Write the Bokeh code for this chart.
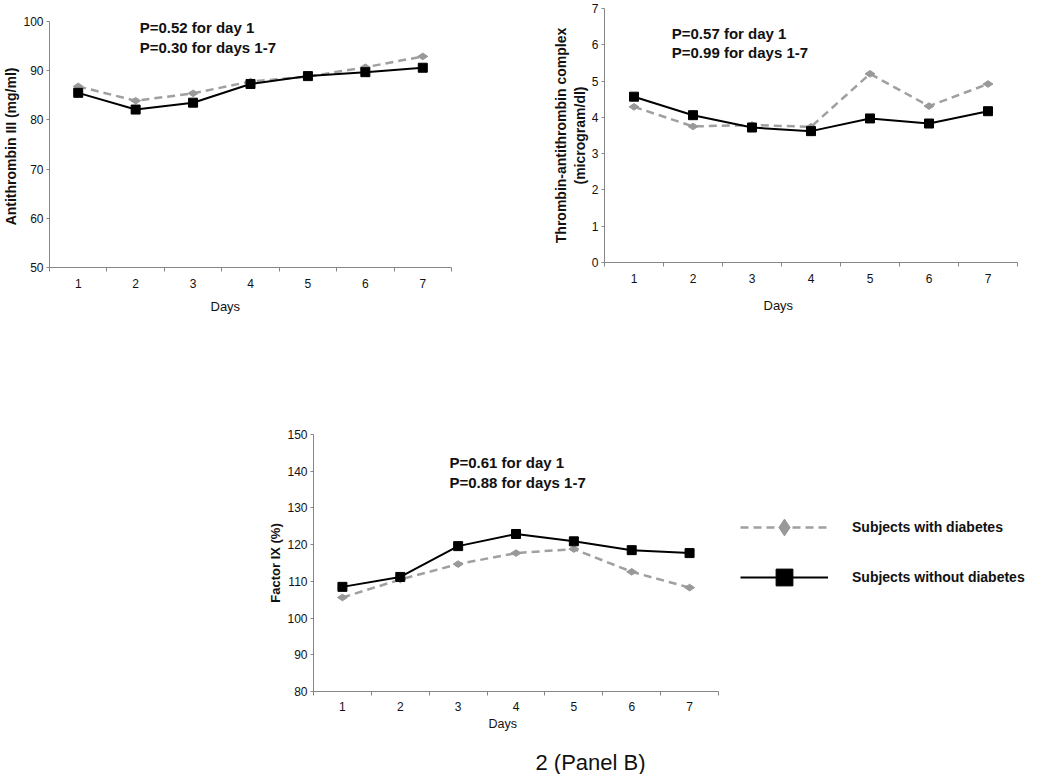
from math import pi
from bokeh.plotting import figure
from bokeh.models import FixedTicker, Label, Legend, LegendItem, Spacer, Range1d, Title
from bokeh.layouts import column, row
from bokeh.embed import file_html
from bokeh.resources import INLINE

# ---- data ----
days = [1, 2, 3, 4, 5, 6, 7]
at3_diab = [86.8, 83.9, 85.4, 87.8, 88.8, 90.7, 92.9]
at3_nodiab = [85.5, 82.1, 83.5, 87.3, 88.9, 89.7, 90.6]
tat_diab = [4.29, 3.75, 3.79, 3.74, 5.20, 4.31, 4.92]
tat_nodiab = [4.57, 4.06, 3.72, 3.62, 3.97, 3.83, 4.17]
f9_diab = [105.6, 110.5, 114.7, 117.7, 118.8, 112.6, 108.3]
f9_nodiab = [108.5, 111.2, 119.6, 122.9, 120.9, 118.5, 117.7]

at3_ticks = [50, 60, 70, 80, 90, 100]
tat_ticks = [0, 1, 2, 3, 4, 5, 6, 7]
f9_ticks = [80, 90, 100, 110, 120, 130, 140, 150]

x_title = "Days"
series_labels = ["Subjects with diabetes", "Subjects without diabetes"]
at3_ptext = "P=0.52 for day 1\nP=0.30 for days 1-7"
tat_ptext = "P=0.57 for day 1\nP=0.99 for days 1-7"
f9_ptext = "P=0.61 for day 1\nP=0.88 for days 1-7"

FONT = "Liberation Sans"
AXIS_GRAY = "#868686"
GRAY_LINE = "#A0A0A0"
GRAY_MARK = "#999999"
TXT = "#111111"


def panel(width, height, mb_left, mb_right, mb_top, mb_bottom, yr, yticks, ylabel,
          ylabel_size, diab, nodiab, ptext, px, py, xl_standoff, xt_standoff, xt_size,
          xt_offset, x_end=7.5):
    p = figure(width=width, height=height, x_range=Range1d(0.5, x_end),
               y_range=Range1d(*yr), output_backend="svg", toolbar_location=None,
               min_border_left=mb_left, min_border_right=mb_right,
               min_border_top=mb_top, min_border_bottom=mb_bottom)
    p.xgrid.visible = False
    p.ygrid.visible = False
    p.outline_line_color = None

    xa = p.xaxis[0]
    xa.bounds = (0.5, 7.5)
    xa.ticker = FixedTicker(ticks=days, minor_ticks=[0.5 + i for i in range(8)])
    xa.major_tick_out = 0
    xa.major_tick_in = 0
    xa.minor_tick_out = 4
    xa.minor_tick_in = 0
    xa.axis_line_color = AXIS_GRAY
    xa.minor_tick_line_color = AXIS_GRAY
    xa.major_label_text_font = FONT
    xa.major_label_text_font_size = "12px"
    xa.major_label_text_color = TXT
    xa.major_label_standoff = xl_standoff

    # x-axis title placed below the axis, positioned like the reference (left of centre)
    p.add_layout(Title(text=x_title, align="left", offset=xt_offset, standoff=xt_standoff,
                       text_font=FONT, text_font_style="normal", text_font_size=xt_size,
                       text_color=TXT), "below")

    ya = p.yaxis[0]
    ya.ticker = FixedTicker(ticks=yticks)
    ya.major_tick_out = 3
    ya.major_tick_in = 0
    ya.minor_tick_line_color = None
    ya.axis_line_color = AXIS_GRAY
    ya.major_tick_line_color = AXIS_GRAY
    ya.major_label_text_font = FONT
    ya.major_label_text_font_size = "12px"
    ya.major_label_text_color = TXT
    ya.major_label_standoff = 3
    ya.axis_label = ylabel
    ya.axis_label_text_font = FONT
    ya.axis_label_text_font_style = "bold"
    ya.axis_label_text_font_size = ylabel_size
    ya.axis_label_text_color = TXT
    ya.axis_label_standoff = 1

    gl = p.line(days, diab, line_color=GRAY_LINE, line_width=2.5, line_dash="8 5")
    gs = p.scatter(days, diab, marker="diamond", angle=pi / 2, size=10,
                   fill_color=GRAY_MARK, line_color=GRAY_MARK)
    bl = p.line(days, nodiab, line_color="black", line_width=2)
    bs = p.scatter(days, nodiab, marker="square", size=9,
                   fill_color="black", line_color="black")

    p.add_layout(Label(x=px, y=py, text=ptext, text_font=FONT, text_font_style="bold",
                       text_font_size="15px", text_baseline="top", text_align="left",
                       text_color=TXT, text_line_height=1.15))
    return p, (gl, gs, bl, bs)


p1, _ = panel(549, 315, 49, 98, 6, 63, (50, 100), at3_ticks,
              "Antithrombin III  (mg/ml)", "14px", at3_diab, at3_nodiab,
              at3_ptext, 2.07, 100.5, 7, 12, "13px", 161)

p2, _ = panel(499, 330, 50, 31, 8, 68, (0, 7), tat_ticks,
              "Thrombin-antithrombin complex\n(microgram/dl)", "14px", tat_diab, tat_nodiab,
              tat_ptext, 1.64, 6.55, 7, 21, "13px", 159)

# Factor IX panel: the frame is widened to the right so the legend can sit inside it;
# the x axis itself is bounded to days 0.5..7.5.
P3_W, P3_L, P3_R, P3_AXIS_PX = 787, 52, 8, 405
p3_x_end = 0.5 + 7 * (P3_W - P3_L - P3_R) / P3_AXIS_PX
p3, rs = panel(P3_W, 410, P3_L, P3_R, 104, 49, (80, 150), f9_ticks,
               "Factor IX (%)", "13px", f9_diab, f9_nodiab,
               f9_ptext, 2.85, 144.6, 6, 2, "12.5px", 175, x_end=p3_x_end)

gl, gs, bl, bs = rs
legend = Legend(items=[LegendItem(label=series_labels[0], renderers=[gl, gs]),
                       LegendItem(label=series_labels[1], renderers=[bl, bs])],
                location=(427, 93), glyph_width=88, glyph_height=42, spacing=8,
                padding=0, margin=0, label_standoff=24, border_line_color=None,
                background_fill_alpha=0, label_text_font=FONT,
                label_text_font_style="bold", label_text_font_size="14px",
                label_text_color=TXT)
p3.add_layout(legend)

cap = figure(width=1048, height=34, x_range=Range1d(0, 1048), y_range=Range1d(0, 34),
             output_backend="svg", toolbar_location=None, min_border=0,
             x_axis_location=None, y_axis_location=None)
cap.xgrid.visible = False
cap.ygrid.visible = False
cap.outline_line_color = None
cap.add_layout(Label(x=590, y=12, text="2 (Panel B)", text_font=FONT,
                     text_font_size="22px", text_align="center", text_baseline="middle",
                     text_color=TXT))

layout = column(
    row(column(Spacer(width=549, height=15), p1), p2),
    row(Spacer(width=261, height=410), p3),
    cap,
)

open("out.html", "w").write(file_html(layout, INLINE))
